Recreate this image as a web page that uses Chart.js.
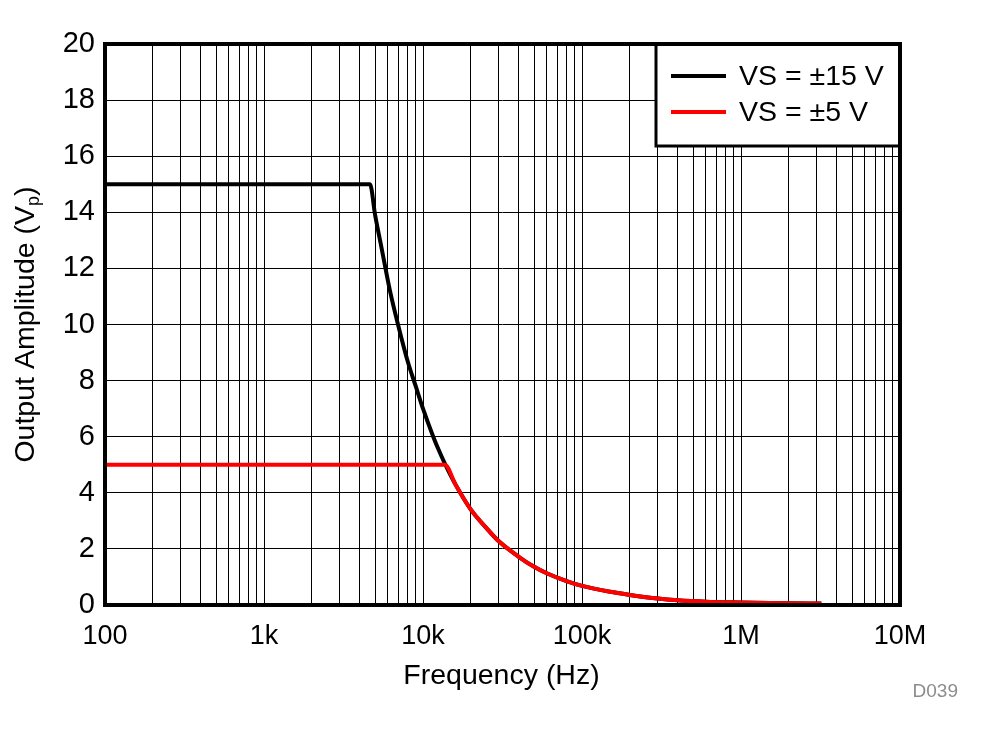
<!DOCTYPE html>
<html>
<head>
<meta charset="utf-8">
<script src="https://cdn.jsdelivr.net/npm/chart.js@4.4.1/dist/chart.umd.min.js"></script>
<style>
html,body{margin:0;padding:0;background:#fff;}
#wrap{width:982px;height:734px;position:relative;}
</style>
</head>
<body>
<div id="wrap"><canvas id="c" width="982" height="734"></canvas></div>
<script>
// ---- data ----
const freq15 = [100, 4640, 5000, 5500, 6200, 7000, 8000, 9000, 10000, 11600, 12500, 13700, 16000, 20000, 25000, 30000, 40000, 50000, 60000, 80000, 100000, 150000, 200000, 300000, 400000, 600000, 1000000, 1500000, 2000000, 3200000];
const amp15  = [15, 15, 13.9, 12.7, 11.2, 9.95, 8.7, 7.8, 7.0, 6.0, 5.55, 5.05, 4.3, 3.4, 2.75, 2.27, 1.72, 1.36, 1.13, 0.85, 0.68, 0.47, 0.36, 0.23, 0.17, 0.12, 0.09, 0.07, 0.06, 0.05];
const freq5  = [100, 13700, 16000, 20000, 25000, 30000, 40000, 50000, 60000, 80000, 100000, 150000, 200000, 300000, 400000, 600000, 1000000, 1500000, 2000000, 3200000];
const amp5   = [5, 5, 4.3, 3.4, 2.75, 2.27, 1.72, 1.36, 1.13, 0.85, 0.68, 0.47, 0.36, 0.23, 0.17, 0.12, 0.09, 0.07, 0.06, 0.05];
const seriesLabels = ['VS = \u00b115 V', 'VS = \u00b15 V'];
const seriesColors = ['#000000', '#ff0000'];
const xDecades = [100, 1000, 10000, 100000, 1000000, 10000000];
const xTickLabels = ['100', '1k', '10k', '100k', '1M', '10M'];
const yTicks = [0, 2, 4, 6, 8, 10, 12, 14, 16, 18, 20];
const xTitle = 'Frequency (Hz)';
const yTitleMain = 'Output Amplitude (V';
const yTitleSub = 'p';
const yTitleEnd = ')';
const figId = 'D039';

const FONT = '"Liberation Sans", Arial, Helvetica, sans-serif';
const toPts = (xs, ys) => xs.map((x, i) => ({x: x, y: ys[i]}));

const decorPlugin = {
  id: 'decor',
  afterDatasetsDraw(chart) {
    const ctx = chart.ctx, a = chart.chartArea;
    ctx.save();
    // legend box
    const lx = 656, ly = 44, lw = a.right - 656, lh = 102;
    ctx.fillStyle = '#fff';
    ctx.fillRect(lx, ly, lw, lh);
    ctx.lineWidth = 3;
    ctx.strokeStyle = '#000';
    ctx.strokeRect(lx, ly, lw, lh);
    const rows = [76, 112];
    ctx.font = '28.5px ' + FONT;
    ctx.textBaseline = 'middle';
    ctx.textAlign = 'left';
    for (let i = 0; i < seriesLabels.length; i++) {
      ctx.beginPath();
      ctx.lineWidth = 4;
      ctx.strokeStyle = seriesColors[i];
      ctx.moveTo(671, rows[i]);
      ctx.lineTo(726, rows[i]);
      ctx.stroke();
      ctx.fillStyle = '#000';
      ctx.fillText(seriesLabels[i], 739, rows[i] + 1);
    }
    // plot frame
    ctx.lineWidth = 4;
    ctx.strokeStyle = '#000';
    ctx.strokeRect(a.left, a.top, a.right - a.left, a.bottom - a.top);
    ctx.restore();
  },
  afterDraw(chart) {
    const ctx = chart.ctx, a = chart.chartArea;
    ctx.save();
    ctx.fillStyle = '#000';
    // x title
    ctx.font = '28.5px ' + FONT;
    ctx.textAlign = 'center';
    ctx.textBaseline = 'alphabetic';
    ctx.fillText(xTitle, (a.left + a.right) / 2 - 1, 684);
    // y title with subscript
    ctx.translate(34, (a.top + a.bottom) / 2);
    ctx.rotate(-Math.PI / 2);
    ctx.font = '28.5px ' + FONT;
    const w1 = ctx.measureText(yTitleMain).width;
    ctx.font = '18px ' + FONT;
    const w2 = ctx.measureText(yTitleSub).width;
    ctx.font = '28.5px ' + FONT;
    const w3 = ctx.measureText(yTitleEnd).width;
    let x0 = -(w1 + w2 + w3) / 2;
    ctx.textAlign = 'left';
    ctx.fillText(yTitleMain, x0, 0);
    ctx.font = '18px ' + FONT;
    ctx.fillText(yTitleSub, x0 + w1, 5);
    ctx.font = '28.5px ' + FONT;
    ctx.fillText(yTitleEnd, x0 + w1 + w2, 0);
    ctx.restore();
    // figure id
    ctx.save();
    ctx.fillStyle = '#8c8c8c';
    ctx.font = '19px ' + FONT;
    ctx.textAlign = 'right';
    ctx.textBaseline = 'alphabetic';
    ctx.fillText(figId, 958, 697);
    ctx.restore();
  }
};

new Chart(document.getElementById('c'), {
  type: 'line',
  data: {
    datasets: [
      {label: seriesLabels[0], data: toPts(freq15, amp15), borderColor: seriesColors[0], borderWidth: 4, pointRadius: 0, cubicInterpolationMode: 'monotone', fill: false, order: 2},
      {label: seriesLabels[1], data: toPts(freq5, amp5), borderColor: seriesColors[1], borderWidth: 4, pointRadius: 0, cubicInterpolationMode: 'monotone', fill: false, order: 1}
    ]
  },
  plugins: [decorPlugin],
  options: {
    responsive: false,
    animation: false,
    devicePixelRatio: 1,
    layout: {padding: {top: 44, right: 82, left: 0, bottom: 0}},
    plugins: {legend: {display: false}, tooltip: {enabled: false}, title: {display: false}},
    scales: {
      x: {
        type: 'logarithmic',
        min: 100, max: 10000000,
        border: {display: false},
        grid: {color: '#000', lineWidth: 1, drawTicks: false},
        afterBuildTicks(scale) {
          const t = [];
          for (let e = 2; e <= 6; e++) for (let m = 1; m <= 9; m++) t.push({value: m * Math.pow(10, e)});
          t.push({value: 1e7});
          scale.ticks = t;
        },
        afterFit(scale) { scale.height = 129; },
        ticks: {
          autoSkip: false, maxRotation: 0, minRotation: 0, padding: 15,
          color: '#000', font: {family: FONT, size: 27},
          callback(v) { const i = xDecades.indexOf(v); return i >= 0 ? xTickLabels[i] : ''; }
        }
      },
      y: {
        type: 'linear',
        min: 0, max: 20,
        border: {display: false},
        grid: {color: '#000', lineWidth: 1, drawTicks: false},
        afterBuildTicks(scale) { scale.ticks = yTicks.map(v => ({value: v})); },
        afterFit(scale) { scale.width = 105; },
        ticks: {padding: 10, color: '#000', font: {family: FONT, size: 29}}
      }
    }
  }
});
</script>
</body>
</html>
